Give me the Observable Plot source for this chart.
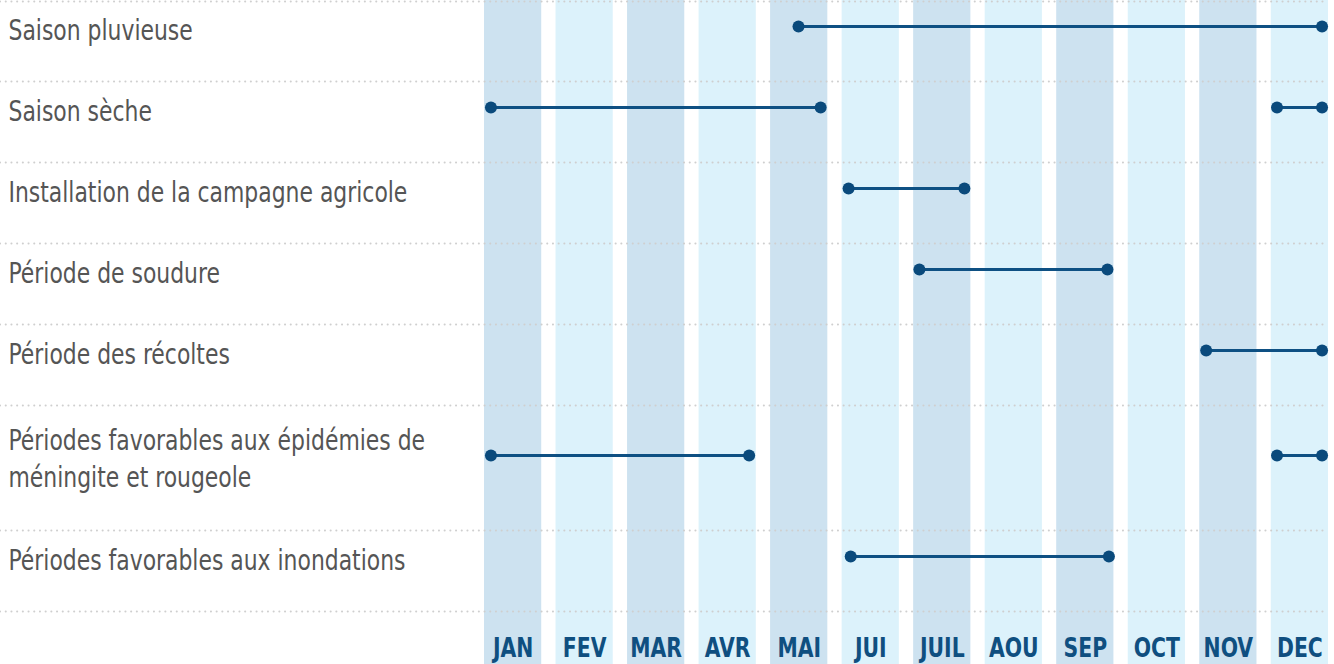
<!DOCTYPE html>
<html><head><meta charset="utf-8">
<script src="https://cdn.jsdelivr.net/npm/d3@7"></script>
<script src="https://cdn.jsdelivr.net/npm/@observablehq/plot@0.6"></script>
<style>html,body{margin:0;padding:0;background:#fff;overflow:hidden;}</style>
</head><body><div id="chart"></div>
<script>
const categories = [
  "Saison pluvieuse",
  "Saison sèche",
  "Installation de la campagne agricole",
  "Période de soudure",
  "Période des récoltes",
  "Périodes favorables aux épidémies de\nméningite et rougeole",
  "Périodes favorables aux inondations"
];
const months = ["JAN","FEV","MAR","AVR","MAI","JUI","JUIL","AOU","SEP","OCT","NOV","DEC"];
// Segments: category, start and end in month units (0 = start of January column)
const segCategory = [
  "Saison pluvieuse",
  "Saison sèche",
  "Saison sèche",
  "Installation de la campagne agricole",
  "Période de soudure",
  "Période des récoltes",
  "Périodes favorables aux épidémies de\nméningite et rougeole",
  "Périodes favorables aux épidémies de\nméningite et rougeole",
  "Périodes favorables aux inondations"
];
const segStart = [4.39, 0.09, 11.08, 5.09, 6.08, 10.09, 0.09, 11.08, 5.12];
const segEnd   = [11.71, 4.70, 11.71, 6.71, 8.71, 11.71, 3.70, 11.71, 8.73];

const FONT = '"Liberation Sans Narrow","DejaVu Sans Condensed","Roboto Condensed","Arial Narrow",sans-serif';
const W = 1334, H = 664;
const ROW = 81, EXTRA = 44;
const rows = []; let acc = 0;
categories.forEach(c => {
  const n = c.split("\n").length;
  rows.push({c, top: acc, mid: acc + (n === 1 ? 26 : 50)});
  acc += ROW + EXTRA * (n - 1);
});
const seps = [1, ...rows.slice(1).map(r => r.top), acc];
const yOf = new Map(rows.map(r => [r.c, r.mid]));
const segs = segCategory.map((c, i) => ({c, y: yOf.get(c), start: segStart[i], end: segEnd[i]}));
const cols = months.map((m, i) => ({m, x1: i, x2: i + 0.8, fill: i % 2 === 0 ? "#cde2f0" : "#dcf2fb"}));

const chart = Plot.plot({
  width: W, height: H,
  marginLeft: 0, marginRight: 0, marginTop: 0, marginBottom: 0,
  x: {domain: [0, 11.8], range: [484, 1328], axis: null},
  y: {domain: [0, H], range: [0, H], axis: null},
  color: {type: "identity"},
  style: {fontFamily: FONT, background: "#fff", overflow: "visible"},
  marks: [
    Plot.rect(cols, {x1: "x1", x2: "x2", fill: "fill"}),
    Plot.ruleY(seps, {stroke: "#cfcfcf", strokeWidth: 2, strokeDasharray: "0.1,5.6", strokeLinecap: "round", insetRight: 10}),
    Plot.link(segs, {x1: "start", x2: "end", y1: "y", y2: "y", stroke: "#0e5083", strokeWidth: 3}),
    Plot.dot(segs, {x: "start", y: "y", r: 6, fill: "#0a4a7c"}),
    Plot.dot(segs, {x: "end", y: "y", r: 6, fill: "#0a4a7c"}),
    Plot.text(rows, {y: "mid", text: "c", frameAnchor: "left", textAnchor: "start", lineAnchor: "middle", dx: 8, dy: 1.5, fontSize: 29, fill: "#555555", lineHeight: 1.28}),
    Plot.text(cols, {x: d => d.x1 + 0.4, y: () => 648, text: "m", textAnchor: "middle", lineAnchor: "middle", fontSize: 27, fontWeight: "bold", fill: "#0f4f80"})
  ]
});
document.getElementById("chart").appendChild(chart);
d3.select(chart).selectAll('g[aria-label="text"] text').each(function() {
  const t = this.getAttribute("transform") || "";
  this.setAttribute("transform", t + " scale(0.84,1)");
});
</script>
</body></html>
